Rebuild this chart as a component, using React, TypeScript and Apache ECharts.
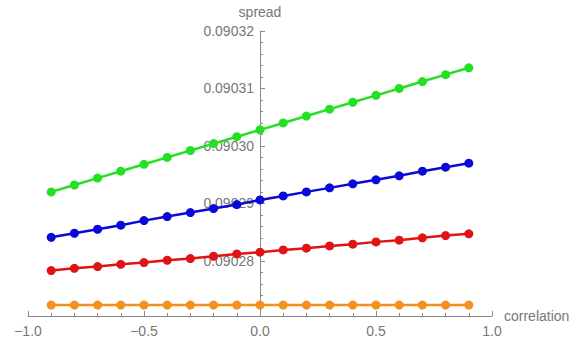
import React, { useEffect, useRef } from "react";
import * as echarts from "echarts";

const correlations = [-0.9, -0.8, -0.7, -0.6, -0.5, -0.4, -0.3, -0.2, -0.1, 0, 0.1, 0.2, 0.3, 0.4, 0.5, 0.6, 0.7, 0.8, 0.9];

const greenSpread = [0.0902920, 0.0902932, 0.0902944, 0.0902956, 0.0902968, 0.0902980, 0.0902992, 0.0903004, 0.0903016, 0.0903028, 0.0903040, 0.0903052, 0.0903064, 0.0903076, 0.0903088, 0.0903100, 0.0903112, 0.0903124, 0.0903136];
const blueSpread = [0.0902841, 0.0902848, 0.0902855, 0.0902862, 0.0902870, 0.0902877, 0.0902884, 0.0902891, 0.0902898, 0.0902906, 0.0902913, 0.0902920, 0.0902927, 0.0902934, 0.0902941, 0.0902948, 0.0902956, 0.0902963, 0.0902970];
const redSpread = [0.0902783, 0.0902787, 0.0902790, 0.0902794, 0.0902797, 0.0902801, 0.0902804, 0.0902808, 0.0902812, 0.0902815, 0.0902819, 0.0902822, 0.0902826, 0.0902829, 0.0902833, 0.0902836, 0.0902840, 0.0902844, 0.0902847];
const orangeSpread = [0.0902723, 0.0902723, 0.0902723, 0.0902723, 0.0902723, 0.0902723, 0.0902723, 0.0902723, 0.0902723, 0.0902723, 0.0902723, 0.0902723, 0.0902723, 0.0902723, 0.0902723, 0.0902723, 0.0902723, 0.0902723, 0.0902723];

const xMin = -1;
const xMax = 1;
const yMin = 0.0902704;
const yMax = 0.09032;

const seriesDefs = [
  { name: "green", color: "#22e022", values: greenSpread },
  { name: "blue", color: "#0a0ad8", values: blueSpread },
  { name: "red", color: "#e01414", values: redSpread },
  { name: "orange", color: "#f39020", values: orangeSpread },
];

const GRID_LEFT = 28;
const GRID_WIDTH = 464;

export default function App() {
  const ref = useRef<HTMLDivElement>(null);
  useEffect(() => {
    if (!ref.current) return;
    const chart = echarts.init(ref.current, undefined, { renderer: "svg" });
    const axisColor = "#8a8a8a";
    const textColor = "#777777";
    const font = "Liberation Sans, Arial, sans-serif";
    chart.setOption({
      animation: false,
      backgroundColor: "#ffffff",
      grid: {
        left: GRID_LEFT,
        top: 31,
        width: GRID_WIDTH,
        height: 285,
        containLabel: false,
        outerBoundsMode: "none",
      },
      xAxis: {
        type: "value",
        min: xMin,
        max: xMax,
        interval: 0.5,
        name: "correlation",
        nameLocation: "end",
        nameGap: 12,
        nameTextStyle: { color: textColor, fontSize: 14, fontFamily: font },
        axisLine: { onZero: false, lineStyle: { color: axisColor, width: 1 } },
        axisTick: { show: true, inside: true, length: 5, lineStyle: { color: axisColor } },
        minorTick: { show: true, splitNumber: 5, length: 3, lineStyle: { color: axisColor } },
        splitLine: { show: false },
        axisLabel: {
          color: textColor,
          fontSize: 14,
          margin: 8,
          fontFamily: font,
          formatter: (v: number) => (v < 0 ? "\u2212" + Math.abs(v).toFixed(1) : v.toFixed(1)),
        },
      },
      yAxis: {
        type: "value",
        min: yMin,
        max: yMax,
        splitNumber: 5,
        position: "left",
        offset: -GRID_WIDTH / 2,
        name: "spread",
        nameLocation: "end",
        nameGap: 12,
        nameTextStyle: { color: textColor, fontSize: 14, fontFamily: font },
        axisLine: { show: true, onZero: false, lineStyle: { color: axisColor, width: 1 } },
        axisTick: { show: true, inside: true, length: 5, lineStyle: { color: axisColor } },
        minorTick: { show: true, splitNumber: 5, length: 3, lineStyle: { color: axisColor } },
        splitLine: { show: false },
        axisLabel: {
          color: textColor,
          fontSize: 14,
          margin: 6,
          showMinLabel: false,
          fontFamily: font,
          formatter: (v: number) => v.toFixed(5),
        },
      },
      series: seriesDefs.map((s) => ({
        name: s.name,
        type: "line",
        data: correlations.map((c, i) => [c, s.values[i]]),
        symbol: "circle",
        symbolSize: 9,
        showSymbol: true,
        lineStyle: { color: s.color, width: 2.5 },
        itemStyle: { color: s.color },
        z: 3,
      })),
    });
    return () => chart.dispose();
  }, []);
  return <div ref={ref} style={{ position: "fixed", left: 0, top: 0, width: 576, height: 343 }} />;
}
